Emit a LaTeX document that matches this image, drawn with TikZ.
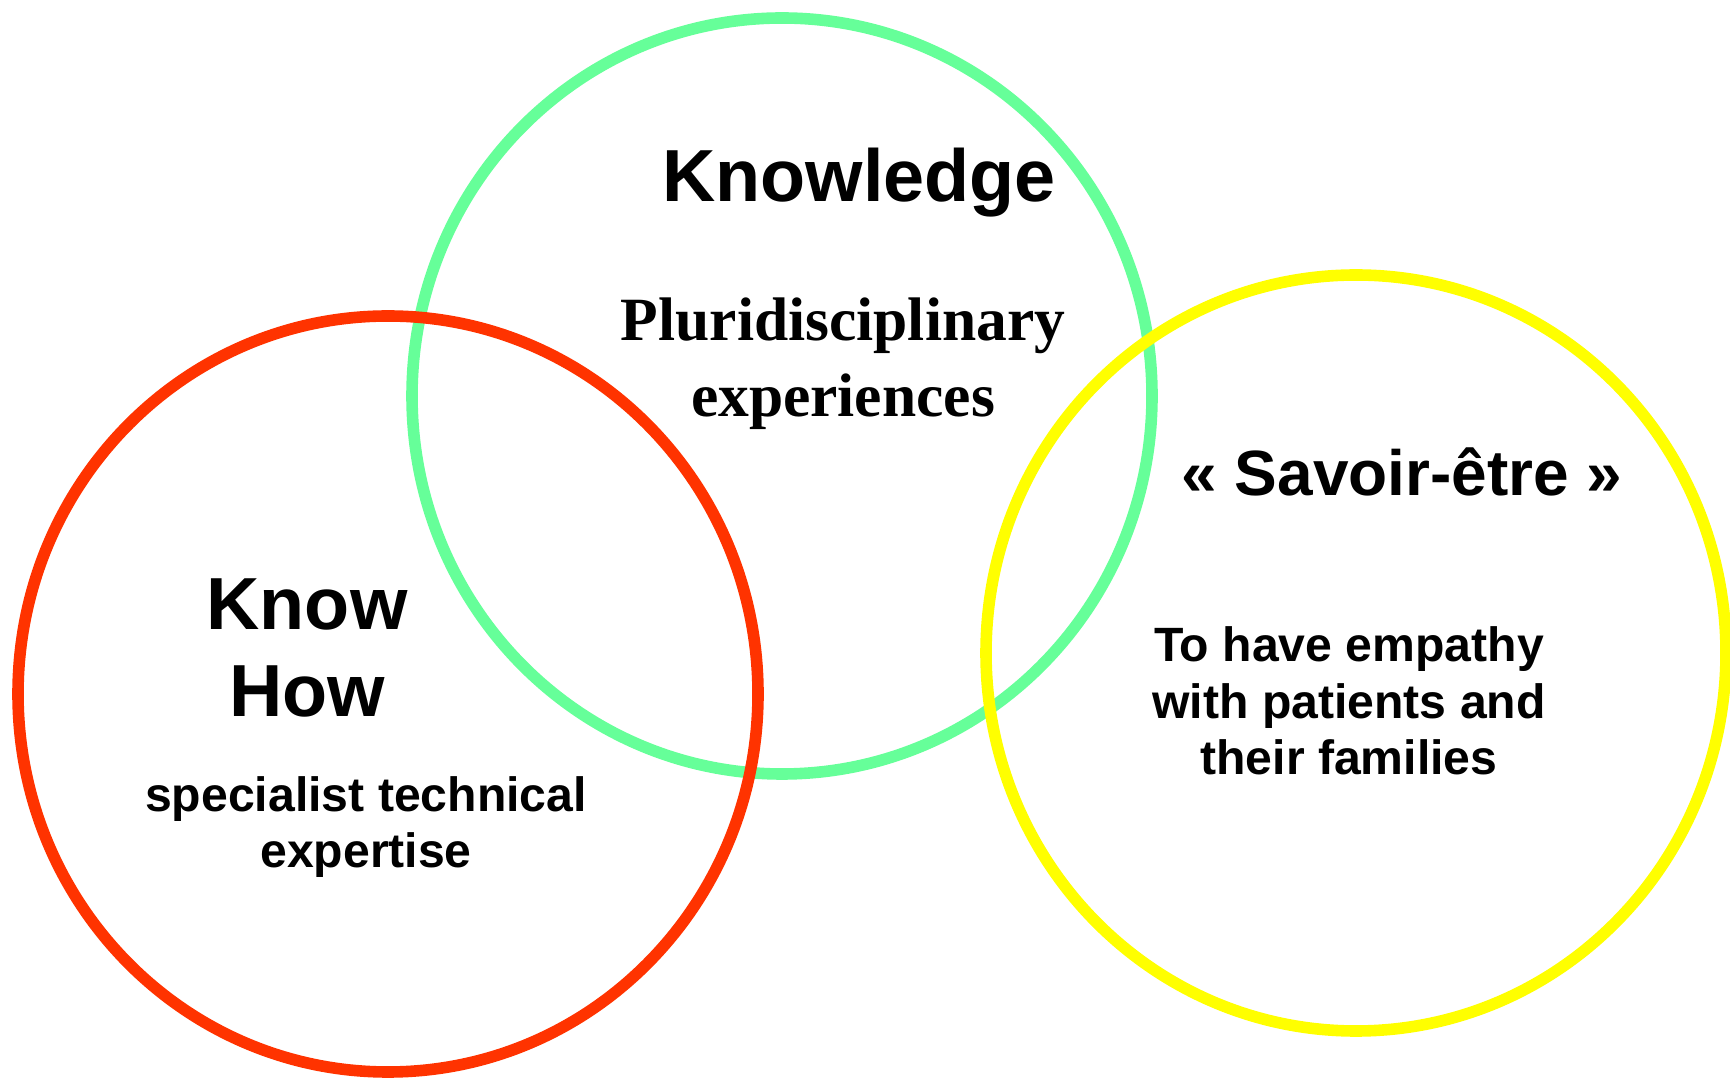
\documentclass[tikz,border=0pt]{standalone}
\usepackage{fontspec}
\setmainfont{Liberation Serif}
\setsansfont{Liberation Sans}
\usepackage{tikz}
\usetikzlibrary{positioning}

\definecolor{knowgreen}{HTML}{66FF99}
\definecolor{howred}{HTML}{FF3300}
\definecolor{etreyellow}{HTML}{FFFF00}

\begin{document}
\begin{tikzpicture}
	[
	ring/.style = {line width=3.3pt},
	title/.style = {anchor=base, inner sep=0pt, align=center, font=\sffamily\bfseries\fontsize{21}{25}\selectfont},
	small/.style = {anchor=base, inner sep=0pt, align=center, font=\sffamily\bfseries\fontsize{13.7}{16.2}\selectfont},
	serif/.style = {anchor=base, inner sep=0pt, align=center, font=\rmfamily\bfseries\fontsize{17.5}{21.9}\selectfont}
	]
		\useasboundingbox (0,0) rectangle (17.30,10.77);

		\coordinate (green) at (7.82,6.81);
		\coordinate (red) at (3.88,3.83);
		\coordinate (yellow) at (13.56,4.24);

		\draw[ring, knowgreen] (green) ellipse [x radius=3.70, y radius=3.78];
		\draw[ring, etreyellow] (yellow) ellipse [x radius=3.70, y radius=3.78];
		\draw[ring, howred] (red) ellipse [x radius=3.70, y radius=3.78];

		% multi-line nodes sit on the baseline of their last line
		\node[title] (knowledge) at (8.59,8.75) {Knowledge};
		\node[serif] (pluri) at (8.43,6.60) {Pluridisciplinary\\experiences};

		\node[title] (knowhow) at (3.07,3.60) {Know\\How};
		\node[small] (expertise) at (3.66,2.09) {specialist technical\\expertise};

		\node[title, font=\sffamily\bfseries\fontsize{18.2}{22}\selectfont] (savoir) at (14.02,5.81) {« Savoir-être »};
		\node[small] (empathy) at (13.49,3.02) {To have empathy\\with patients and\\their families};

	\end{tikzpicture}
\end{document}
